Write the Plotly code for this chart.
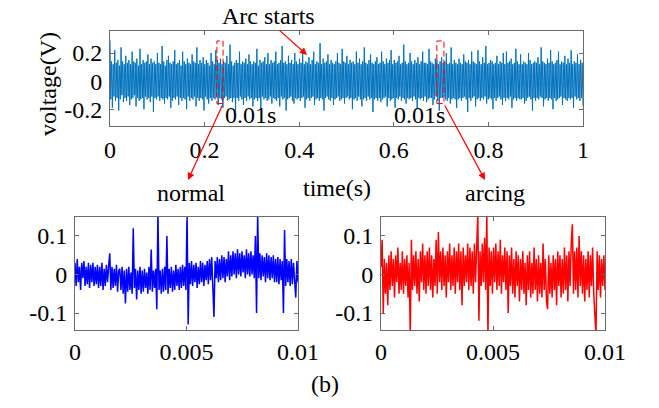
import plotly.graph_objects as go

# ---------------- data ----------------
top_v = [
 0.29,-0.13,0.14,-0.19,0.12,-0.11,0.22,-0.14,0.13,-0.12,0.15,-0.21,0.11,-0.13,0.24,-0.10,0.14,-0.15,0.12,-0.12,
 0.18,-0.14,0.13,-0.11,0.15,-0.17,0.12,-0.13,0.21,-0.12,0.14,-0.10,0.13,-0.18,0.16,-0.12,0.11,-0.14,0.23,-0.13,
 0.12,-0.12,0.15,-0.20,0.13,-0.11,0.14,-0.13,0.19,-0.12,0.12,-0.15,0.16,-0.11,0.13,-0.22,0.14,-0.12,0.12,-0.13,
 0.20,-0.11,0.13,-0.14,0.12,-0.12,0.25,-0.13,0.14,-0.16,0.11,-0.12,0.15,-0.13,0.18,-0.11,0.13,-0.19,0.12,-0.14,
 0.14,-0.12,0.22,-0.13,0.12,-0.11,0.13,-0.17,0.15,-0.12,0.11,-0.14,0.21,-0.12,0.14,-0.13,0.12,-0.20,0.16,-0.11,
 0.13,-0.14,0.12,-0.12,0.19,-0.13,0.14,-0.11,0.13,-0.18,0.24,-0.12,0.12,-0.14,0.15,-0.12,0.13,-0.13,0.17,-0.21,
 0.12,-0.11,0.15,-0.13,0.13,-0.16,0.11,-0.12,0.20,-0.14,0.14,-0.12,0.12,-0.13,0.22,-0.11,0.15,-0.17,0.13,-0.12,
 0.16,-0.13,0.12,-0.19,0.14,-0.12,0.13,-0.11,0.18,-0.14,0.12,-0.13,0.26,-0.12,0.14,-0.15,0.11,-0.12,0.13,-0.22,
 0.15,-0.12,0.13,-0.14,0.21,-0.11,0.12,-0.13,0.14,-0.17,0.13,-0.12,0.16,-0.14,0.12,-0.11,0.19,-0.13,0.14,-0.12,
 0.12,-0.18,0.14,-0.13,0.13,-0.12,0.23,-0.14,0.11,-0.12,0.15,-0.20,0.13,-0.11,0.14,-0.13,0.17,-0.12,0.12,-0.14,
 0.20,-0.13,0.12,-0.11,0.15,-0.16,0.13,-0.12,0.14,-0.13,0.21,-0.14,0.12,-0.12,0.13,-0.18,0.15,-0.11,0.25,-0.13,
 0.13,-0.12,0.14,-0.21,0.12,-0.13,0.18,-0.12,0.13,-0.11,0.15,-0.14,0.12,-0.16,0.20,-0.12,0.14,-0.13,0.12,-0.12,
 0.16,-0.14,0.13,-0.12,0.22,-0.11,0.12,-0.19,0.14,-0.13,0.13,-0.12,0.17,-0.14,0.12,-0.12,0.15,-0.11,0.21,-0.17,
 0.12,-0.13,0.14,-0.12,0.13,-0.14,0.27,-0.12,0.12,-0.13,0.16,-0.21,0.13,-0.12,0.14,-0.11,0.19,-0.13,0.12,-0.14,
 0.15,-0.12,0.13,-0.17,0.12,-0.13,0.14,-0.12,0.20,-0.11,0.13,-0.14,0.12,-0.13,0.23,-0.12,0.14,-0.16,0.13,-0.12,
 0.18,-0.11,0.12,-0.13,0.15,-0.12,0.13,-0.20,0.14,-0.13,0.12,-0.12,0.21,-0.14,0.13,-0.11,0.16,-0.13,0.12,-0.18,
 0.14,-0.13,0.24,-0.12,0.13,-0.14,0.12,-0.11,0.15,-0.13,0.19,-0.12,0.13,-0.22,0.12,-0.13,0.14,-0.12,0.17,-0.14,
 0.12,-0.12,0.13,-0.15,0.21,-0.13,0.14,-0.12,0.12,-0.11,0.16,-0.18,0.13,-0.12,0.15,-0.14,0.22,-0.13,0.12,-0.12,
 0.15,-0.19,0.13,-0.12,0.14,-0.13,0.18,-0.11,0.12,-0.14,0.13,-0.12,0.26,-0.13,0.14,-0.16,0.12,-0.12,0.13,-0.13,
 0.20,-0.12,0.14,-0.14,0.12,-0.11,0.15,-0.13,0.13,-0.20,0.17,-0.12,0.12,-0.13,0.14,-0.12,0.21,-0.14,0.13,-0.11,
 0.13,-0.15,0.12,-0.13,0.23,-0.12,0.14,-0.12,0.13,-0.17,0.12,-0.13,0.16,-0.11,0.15,-0.14,0.12,-0.21,0.14,-0.12,
 0.17,-0.12,0.13,-0.11,0.14,-0.13,0.20,-0.14,0.12,-0.12,0.13,-0.16,0.24,-0.13,0.12,-0.12,0.15,-0.13,0.13,-0.19,
 0.12,-0.13,0.16,-0.12,0.13,-0.14,0.12,-0.12,0.19,-0.11,0.14,-0.13,0.13,-0.22,0.15,-0.12,0.12,-0.14,0.21,-0.12,
 0.14,-0.11,0.13,-0.18,0.12,-0.13,0.22,-0.12,0.14,-0.14,0.12,-0.12,0.17,-0.13,0.13,-0.11,0.25,-0.16,0.12,-0.13,
 0.13,-0.12,0.15,-0.13,0.14,-0.20,0.12,-0.12,0.13,-0.14,0.18,-0.12,0.12,-0.11,0.14,-0.13,0.13,-0.17,0.20,-0.12,
 0.12,-0.14,0.21,-0.12,0.13,-0.13,0.14,-0.11,0.16,-0.19,0.12,-0.13,0.13,-0.12,0.23,-0.14,0.14,-0.12,0.12,-0.13,
 0.19,-0.13,0.12,-0.12,0.14,-0.16,0.13,-0.14,0.12,-0.12,0.20,-0.11,0.15,-0.13,0.12,-0.21,0.13,-0.12,0.14,-0.14,
 0.13,-0.12,0.17,-0.13,0.12,-0.11,0.24,-0.12,0.14,-0.18,0.13,-0.13,0.12,-0.12,0.16,-0.14,0.13,-0.12,0.22,-0.13,
 0.14,-0.20,0.12,-0.12,0.13,-0.14,0.15,-0.13,0.21,-0.12,0.12,-0.11,0.14,-0.17,0.13,-0.12,0.18,-0.13,0.12,-0.14,
 0.16,-0.12,0.13,-0.13,0.22,-0.12,0.12,-0.19,0.14,-0.11,0.13,-0.13,0.19,-0.12,0.12,-0.14,0.15,-0.12,0.13,-0.18,
]
top_t = [i / (len(top_v) - 1) for i in range(len(top_v))]

normal_v = [
 0.03,-0.03,0.04,-0.02,0.02,-0.04,0.03,-0.01,0.035,-0.03,0.02,-0.025,0.03,-0.035,0.025,-0.02,0.03,-0.03,0.02,-0.025,
 0.025,-0.035,0.02,-0.03,0.03,-0.04,0.015,-0.03,0.025,-0.02,0.02,0.055,-0.04,0.02,-0.035,0.015,-0.03,0.025,-0.045,0.01,
 0.015,-0.04,0.02,-0.05,0.01,-0.075,0.015,-0.045,0.02,-0.04,0.005,-0.05,0.12,-0.035,0.015,-0.065,0.01,-0.04,0.02,-0.05,
 0.01,-0.045,0.015,-0.035,0.005,-0.05,0.02,-0.04,0.065,-0.045,0.01,-0.035,0.015,-0.09,0.16,-0.04,0.01,-0.05,0.015,-0.045,
 0.02,-0.04,0.10,-0.05,0.015,-0.035,0.02,-0.045,0.01,-0.04,0.025,-0.03,0.015,-0.04,0.02,-0.035,0.025,-0.03,0.02,-0.04,
 0.16,-0.13,0.03,-0.025,0.035,-0.03,0.025,-0.02,0.03,-0.035,0.02,-0.025,0.035,-0.02,0.03,-0.03,0.025,-0.015,0.035,-0.025,
 0.04,-0.015,0.045,-0.02,-0.11,0.035,-0.01,0.045,-0.02,0.04,-0.015,0.05,-0.01,0.045,-0.02,0.04,-0.005,0.06,-0.015,0.05,
 -0.005,0.06,0.0,0.055,-0.01,0.065,0.0,0.055,-0.005,0.06,0.005,0.05,-0.01,0.065,0.0,0.055,-0.005,0.06,0.0,0.05,
 -0.01,0.10,-0.10,0.16,-0.01,0.055,-0.015,0.05,-0.005,0.045,-0.02,0.055,-0.01,0.05,-0.015,0.045,-0.01,0.05,-0.02,0.04,
 -0.02,0.045,-0.025,0.04,-0.015,0.035,-0.10,0.115,-0.03,0.04,-0.02,0.035,-0.03,0.04,-0.025,0.03,-0.035,-0.06,0.035,-0.02,
]
normal_t = [0.01 * i / (len(normal_v) - 1) for i in range(len(normal_v))]

arcing_v = [
 0.02,0.09,-0.10,0.04,-0.05,0.03,-0.08,0.05,-0.04,0.06,-0.03,0.04,-0.06,0.05,-0.02,0.07,-0.05,0.03,-0.04,0.06,
 -0.05,0.04,-0.03,0.05,-0.06,0.03,-0.16,0.09,-0.04,0.05,-0.03,0.06,-0.05,0.04,-0.07,0.06,-0.02,0.08,-0.04,0.05,
 -0.05,0.06,-0.03,0.07,-0.04,0.05,-0.06,0.04,-0.03,0.09,-0.05,0.11,-0.02,0.06,-0.04,0.07,-0.03,0.05,-0.06,0.06,
 -0.02,0.08,-0.04,0.05,-0.03,0.07,-0.05,0.06,-0.02,0.08,-0.04,0.06,-0.08,0.07,-0.03,0.05,-0.02,0.08,-0.04,0.07,
 -0.03,0.06,-0.05,0.08,-0.02,0.07,0.16,-0.12,0.06,-0.03,0.08,-0.02,0.095,-0.04,0.16,-0.16,0.07,-0.03,0.06,-0.05,
 0.07,-0.02,0.08,-0.04,0.06,-0.03,0.09,-0.05,0.05,-0.02,0.07,-0.04,0.06,-0.10,0.05,-0.03,0.07,-0.05,0.04,-0.06,
 0.06,-0.03,0.05,-0.07,0.04,-0.04,0.06,-0.05,0.03,-0.08,0.05,-0.04,0.06,-0.06,0.03,-0.05,0.07,-0.04,0.04,-0.07,
 0.05,-0.05,0.03,-0.06,0.08,-0.04,0.04,-0.07,-0.09,0.05,-0.05,0.03,-0.06,0.05,-0.04,0.04,-0.08,0.06,-0.03,0.05,
 -0.06,0.04,-0.05,0.07,-0.04,0.05,-0.07,0.06,-0.03,0.08,0.13,-0.05,0.06,-0.04,0.07,-0.06,0.10,-0.03,0.06,-0.05,
 0.05,-0.07,0.04,-0.04,0.06,-0.06,0.05,-0.03,0.07,-0.05,-0.095,-0.16,0.06,-0.04,0.05,-0.06,0.04,-0.03,0.05,-0.04,
]
arcing_t = [0.01 * i / (len(arcing_v) - 1) for i in range(len(arcing_v))]

top_xticks = [0, 0.2, 0.4, 0.6, 0.8, 1]
top_xlabels = ["0", "0.2", "0.4", "0.6", "0.8", "1"]
top_yticks = [-0.2, 0, 0.2]
top_ylabels = ["-0.2", "0", "0.2"]
bot_xticks = [0, 0.005, 0.01]
bot_xlabels = ["0", "0.005", "0.01"]
bot_yticks = [-0.1, 0, 0.1]
bot_ylabels = ["-0.1", "0", "0.1"]
windows = [(0.226, 0.239), (0.691, 0.706)]
window_y = (-0.16, 0.286)

# ---------------- figure ----------------
W, H = 659, 408
OFF = 0  # page body margin removed below
FONT = "Liberation Serif"
FS = 24
fig = go.Figure()
fig.add_trace(go.Scatter(x=top_t, y=top_v, mode="lines",
                         line=dict(color="#0072BD", width=1.0),
                         xaxis="x", yaxis="y", showlegend=False))
fig.add_trace(go.Scatter(x=normal_t, y=normal_v, mode="lines",
                         line=dict(color="#0000FF", width=1.5),
                         xaxis="x2", yaxis="y2", showlegend=False))
fig.add_trace(go.Scatter(x=arcing_t, y=arcing_v, mode="lines",
                         line=dict(color="#FF0000", width=1.5),
                         xaxis="x3", yaxis="y3", showlegend=False))

def px_x(p):
    return (p - OFF) / W

def px_y(p):
    return 1 - (p - OFF) / H

axis_common = dict(showline=True, mirror="ticks", linecolor="#6b6b6b", linewidth=1,
                   ticks="inside", ticklen=4, tickcolor="#6b6b6b", showgrid=False,
                   zeroline=False, automargin=False,
                   tickfont=dict(family=FONT, size=FS, color="black"))

fig.update_layout(
    template="none",
    width=W, height=H, margin=dict(l=0, r=0, t=0, b=0, pad=0), autosize=False,
    paper_bgcolor="white", plot_bgcolor="white",
    font=dict(family=FONT, size=FS, color="black"),
    xaxis=dict(domain=[px_x(110), px_x(583)], range=[0, 1], tickvals=top_xticks,
               ticktext=top_xlabels, anchor="y", ticklabelstandoff=2, **axis_common),
    yaxis=dict(domain=[px_y(126), px_y(31)], range=[-0.32, 0.357], tickvals=top_yticks,
               ticktext=top_ylabels, anchor="x", ticklabelstandoff=2, **axis_common),
    xaxis2=dict(domain=[px_x(75), px_x(298)], range=[0, 0.01], tickvals=bot_xticks,
                ticktext=bot_xlabels, anchor="y2", ticklabelstandoff=0, **axis_common),
    yaxis2=dict(domain=[px_y(330), px_y(217)], range=[-0.144, 0.149], tickvals=bot_yticks,
                ticktext=bot_ylabels, anchor="x2", ticklabelstandoff=2, **axis_common),
    xaxis3=dict(domain=[px_x(381), px_x(605)], range=[0, 0.01], tickvals=bot_xticks,
                ticktext=bot_xlabels, anchor="y3", ticklabelstandoff=0, **axis_common),
    yaxis3=dict(domain=[px_y(330), px_y(217)], range=[-0.144, 0.149], tickvals=bot_yticks,
                ticktext=bot_ylabels, anchor="x3", ticklabelstandoff=2, **axis_common),
)

for (x0, x1) in windows:
    fig.add_shape(type="rect", xref="x", yref="y", x0=x0, x1=x1, y0=window_y[0], y1=window_y[1],
                  line=dict(color="#FF0000", width=1, dash="6px,3px"), layer="above")

def text(x, y, s, angle=0):
    fig.add_annotation(x=px_x(x), y=px_y(y), xref="paper", yref="paper", text=s,
                       showarrow=False, textangle=angle, xanchor="center", yanchor="middle",
                       font=dict(family=FONT, size=FS, color="black"))

def arrow(tx, ty, hx, hy):
    fig.add_annotation(x=px_x(hx), y=px_y(hy), xref="paper", yref="paper", text="",
                       showarrow=True, ax=tx - hx, ay=ty - hy, arrowhead=2, arrowsize=1.2,
                       arrowwidth=1.2, arrowcolor="#FF0000", standoff=0, startstandoff=0)

text(268, 16, "Arc starts")
text(250, 115, "0.01s")
text(419, 115, "0.01s")
text(48, 84, "voltage(V)", angle=-90)
text(337, 188, "time(s)")
text(191, 193, "normal")
text(495, 193, "arcing")
text(325, 384, "(b)")

arrow(278, 29, 307, 55)
arrow(223, 104, 188, 180)
arrow(444, 104, 485, 180)

fig.write_html("out.html", config={"responsive": False, "displayModeBar": False},
               post_script="document.body.style.margin='0px';")
